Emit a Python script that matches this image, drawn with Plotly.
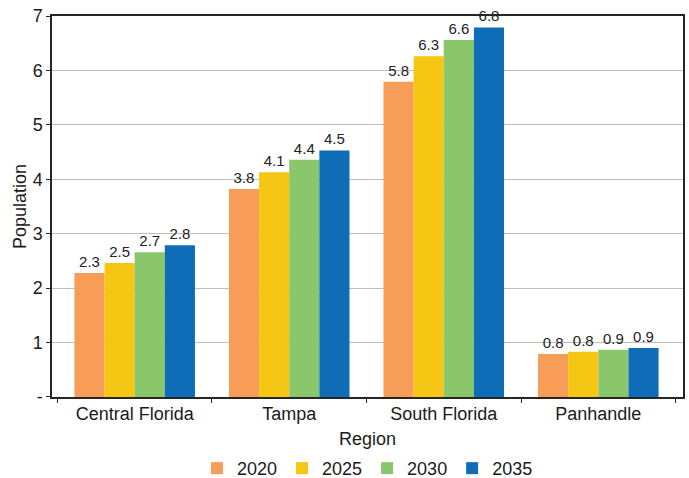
import plotly.graph_objects as go

# Projected population by region (millions)
regions = ["Central Florida", "Tampa", "South Florida", "Panhandle"]
years = ["2020", "2025", "2030", "2035"]
pop_2020 = [2.28, 3.82, 5.79, 0.79]
pop_2025 = [2.46, 4.13, 6.26, 0.83]
pop_2030 = [2.66, 4.36, 6.56, 0.87]
pop_2035 = [2.79, 4.53, 6.79, 0.90]
series = [pop_2020, pop_2025, pop_2030, pop_2035]
colors = ["#F89D58", "#F6C615", "#8AC66A", "#0E6DB6"]

y_tickvals = [0, 1, 2, 3, 4, 5, 6, 7]
y_ticktext = ["-", "1", "2", "3", "4", "5", "6", "7"]

FONT = "Arial, Liberation Sans, sans-serif"

fig = go.Figure()
for year, vals, col in zip(years, series, colors):
    fig.add_trace(go.Bar(
        name=year,
        x=regions,
        y=vals,
        marker=dict(color=col, line=dict(width=0)),
        text=[f"{v:.1f}" for v in vals],
        textposition="outside",
        constraintext="none",
        textfont=dict(family=FONT, size=15, color="#222222"),
        cliponaxis=False,
    ))

fig.update_layout(
    width=689,
    height=478,
    barmode="group",
    bargap=0.22,
    bargroupgap=0,
    paper_bgcolor="white",
    plot_bgcolor="white",
    margin=dict(l=52, r=4, t=16, b=81),
    font=dict(family=FONT, size=18, color="#1a1a1a"),
    legend=dict(
        orientation="h",
        xanchor="center",
        x=0.5,
        yref="container",
        yanchor="middle",
        y=0.02,
        font=dict(size=18),
        itemwidth=30,
        tracegroupgap=0,
    ),
    xaxis=dict(
        range=[-0.535, 3.548],
        showline=True,
        linecolor="#262626",
        linewidth=1.5,
        mirror=True,
        ticks="outside",
        tickson="boundaries",
        ticklen=4,
        tickcolor="#262626",
        tickfont=dict(size=18),
        showgrid=False,
        title=dict(text="Region", standoff=9, font=dict(size=18)),
    ),
    yaxis=dict(
        range=[0, 7],
        tickvals=y_tickvals,
        ticktext=y_ticktext,
        showline=True,
        linecolor="#262626",
        linewidth=1.5,
        mirror=True,
        ticks="outside",
        ticklen=4,
        tickcolor="#262626",
        tickfont=dict(size=18),
        showgrid=True,
        gridcolor="#BFBFBF",
        gridwidth=1,
        zeroline=False,
        title=dict(text="Population", standoff=1, font=dict(size=18)),
    ),
)

fig.write_html("out.html")
